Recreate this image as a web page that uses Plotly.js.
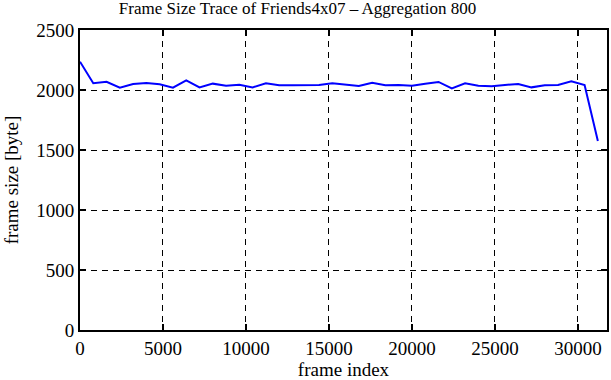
<!DOCTYPE html>
<html>
<head>
<meta charset="utf-8">
<script src="https://cdn.plot.ly/plotly-3.0.1.min.js"></script>
<style>html,body{margin:0;padding:0;background:#fff;}#chart{width:611px;height:380px;}</style>
</head>
<body>
<div id="chart"></div>
<script>
const frameIndex = [0,800,1600,2400,3200,4000,4800,5600,6400,7200,8000,8800,9600,10400,11200,12000,12800,13600,14400,15200,16000,16800,17600,18400,19200,20000,20800,21600,22400,23200,24000,24800,25600,26400,27200,28000,28800,29600,30400,31200];
const frameSize = [2236,2056,2069,2019,2050,2058,2047,2019,2080,2022,2053,2036,2044,2022,2056,2039,2039,2039,2042,2056,2047,2033,2061,2039,2042,2036,2053,2067,2014,2056,2036,2031,2042,2050,2022,2039,2042,2072,2042,1575];
const xTicks = [0,5000,10000,15000,20000,25000,30000];
const yTicks = [0,500,1000,1500,2000,2500];
const titleText = 'Frame Size Trace of Friends4x07 \u2013 Aggregation 800';
const xTitle = 'frame index';
const yTitle = 'frame size [byte]';

const font = 'Liberation Serif, Times New Roman, serif';
const axisCommon = {
  showline: true, linecolor: '#000', linewidth: 2, mirror: 'ticks',
  ticks: 'inside', ticklen: 6, tickwidth: 1.5, tickcolor: '#000',
  showgrid: true, gridcolor: '#000', gridwidth: 1, griddash: '6px,5px',
  zeroline: false, tickfont: {family: font, size: 19, color: '#000'},
  tickmode: 'array'
};
Plotly.newPlot('chart', [{
  x: frameIndex, y: frameSize, type: 'scatter', mode: 'lines',
  line: {color: '#0000ff', width: 2}
}], {
  width: 611, height: 380,
  margin: {l: 80, r: 4, t: 30, b: 50},
  paper_bgcolor: '#fff', plot_bgcolor: '#fff',
  showlegend: false,
  title: {text: titleText, font: {family: font, size: 17, color: '#000'}, x: 0.487, xanchor: 'center', y: 0.995, yanchor: 'top'},
  xaxis: Object.assign({}, axisCommon, {range: [0, 31750], tickvals: xTicks, ticktext: xTicks.map(String),
    title: {text: xTitle, font: {family: font, size: 19, color: '#000'}, standoff: 4}}),
  yaxis: Object.assign({}, axisCommon, {range: [0, 2500], tickvals: yTicks, ticktext: yTicks.map(String),
    title: {text: yTitle, font: {family: font, size: 19, color: '#000'}, standoff: 13}})
}, {displayModeBar: false, staticPlot: true});
</script>
</body>
</html>
